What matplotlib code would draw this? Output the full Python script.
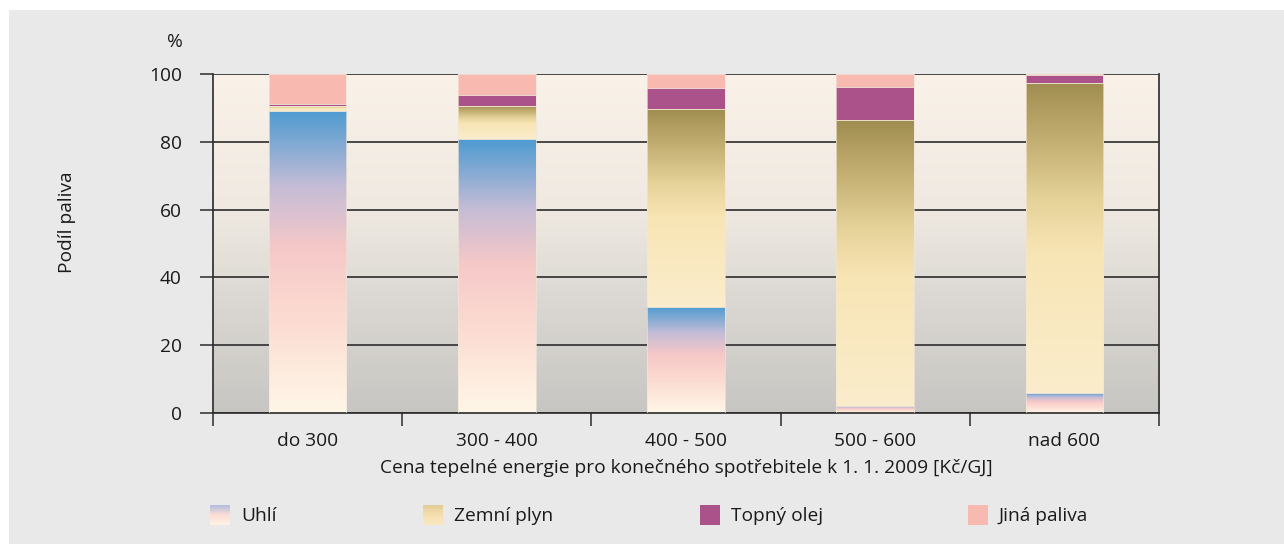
import matplotlib.pyplot as plt
import numpy as np
from matplotlib.colors import LinearSegmentedColormap
from matplotlib.patches import Rectangle

plt.rcParams['font.family'] = ['Open Sans', 'DejaVu Sans']

categories = ['do 300', '300 - 400', '400 - 500', '500 - 600', 'nad 600']
series = ['Uhlí', 'Zemní plyn', 'Topný olej', 'Jiná paliva']
uhli = [89.2, 80.7, 31.4, 2.1, 6.0]
plyn = [1.5, 9.9, 58.3, 84.3, 91.3]
olej = [0.5, 3.2, 6.3, 9.9, 2.4]
jina = [8.8, 6.2, 4.0, 3.7, 0.3]
yticks = [0, 20, 40, 60, 80, 100]

W, H = 1284, 544
FS = 13.8
fig = plt.figure(figsize=(W / 100, H / 100), dpi=100)
fig.patch.set_facecolor('white')
# light grey panel
fig.patches.append(Rectangle((9 / W, 0), 1, 1 - 10 / H, transform=fig.transFigure,
                             facecolor='#e9e9e9', edgecolor='none', zorder=-10))

ax = fig.add_axes([213 / W, 1 - 413 / H, (1159 - 213) / W, (413 - 74) / H])
ax.set_facecolor('none')

cm_bg = LinearSegmentedColormap.from_list('bg', [(0, '#c8c6c2'), (0.35, '#dcd9d4'),
                                                 (0.6, '#efe9e1'), (1, '#faf2e9')])
cm_uhli = LinearSegmentedColormap.from_list('uhli', [(0, '#fff7e8'), (0.3, '#fcdcd2'),
                                                     (0.55, '#f5c8c8'), (0.75, '#c4bcd6'),
                                                     (1, '#4d9bd1')])
cm_plyn = LinearSegmentedColormap.from_list('plyn', [(0, '#fbedcc'), (0.45, '#f8e5b5'),
                                                     (0.62, '#e6d39a'), (0.82, '#c2ae70'),
                                                     (1, '#a08e50')])
c_olej = '#ab528a'
c_jina = '#f8b9b0'

grad = np.linspace(0, 1, 256).reshape(-1, 1)
ax.imshow(grad, cmap=cm_bg, origin='lower', aspect='auto',
          extent=[-0.5, 4.5, 0, 100], zorder=0, interpolation='bilinear')

for y in yticks:
    ax.axhline(y, color='#3a3a3a', lw=1.3, zorder=1)

bw = 0.41
for i in range(len(categories)):
    x0, x1 = i - bw / 2, i + bw / 2
    b = 0
    for vals, col in [(uhli, cm_uhli), (plyn, cm_plyn), (olej, c_olej), (jina, c_jina)]:
        v = vals[i]
        if isinstance(col, str):
            ax.bar(i, v, bw, bottom=b, color=col, zorder=2, linewidth=0)
        else:
            ax.imshow(grad, cmap=col, origin='lower', aspect='auto',
                      extent=[x0, x1, b, b + v], zorder=2, interpolation='bilinear')
        ax.add_patch(Rectangle((x0, b), bw, v, facecolor='none', edgecolor='#f1e6d6',
                               lw=0.6, alpha=0.8, zorder=3))
        b += v

ax.set_xlim(-0.5, 4.5)
ax.set_ylim(0, 100)
ax.set_yticks(yticks)
ax.set_xticks(range(len(categories)))
ax.set_xticklabels(categories)
ax.set_xticks(np.arange(-0.5, 5, 1), minor=True)
ax.tick_params(axis='y', length=9.4, width=1.2, color='#3a3a3a', pad=13, labelsize=FS,
               labelcolor='#1a1a1a')
ax.tick_params(axis='x', which='major', length=0, pad=14, labelsize=FS, labelcolor='#1a1a1a')
ax.tick_params(axis='x', which='minor', length=9, width=1.2, color='#3a3a3a')
for s in ['left', 'right', 'bottom', 'top']:
    ax.spines[s].set_color('#2a2a2a')
    ax.spines[s].set_linewidth(1.2)
ax.spines['top'].set_visible(False)

ax.set_xlabel('Cena tepelné energie pro konečného spotřebitele k 1. 1. 2009 [Kč/GJ]',
              fontsize=FS, color='#1a1a1a', labelpad=6)
fig.text(175 / W, 1 - 42 / H, '%', fontsize=FS, ha='center', va='center', color='#1a1a1a')
fig.text(67 / W, 1 - 222 / H, 'Podíl paliva', fontsize=FS, ha='center', va='center',
         rotation=90, color='#1a1a1a')

# legend
cm_leg_uhli = LinearSegmentedColormap.from_list('lu', ['#fff3e6', '#fbdcd4', '#a9b9e2'])
cm_leg_plyn = LinearSegmentedColormap.from_list('lp', ['#fbe8c2', '#f3dfae', '#e2c993'])
leg_x = [210, 423, 700, 968]
leg_fill = [cm_leg_uhli, cm_leg_plyn, c_olej, c_jina]
for name, px, fill in zip(series, leg_x, leg_fill):
    la = fig.add_axes([px / W, 1 - 525 / H, 20 / W, 20 / H])
    la.set_axis_off()
    if isinstance(fill, str):
        la.add_patch(Rectangle((0, 0), 1, 1, facecolor=fill, edgecolor='none'))
        la.set_xlim(0, 1)
        la.set_ylim(0, 1)
    else:
        la.imshow(grad, cmap=fill, origin='lower', aspect='auto', extent=[0, 1, 0, 1])
    fig.text((px + 31) / W, 1 - 516 / H, name, fontsize=FS, ha='left', va='center',
             color='#1a1a1a')

fig.savefig('out.png', dpi=100)
